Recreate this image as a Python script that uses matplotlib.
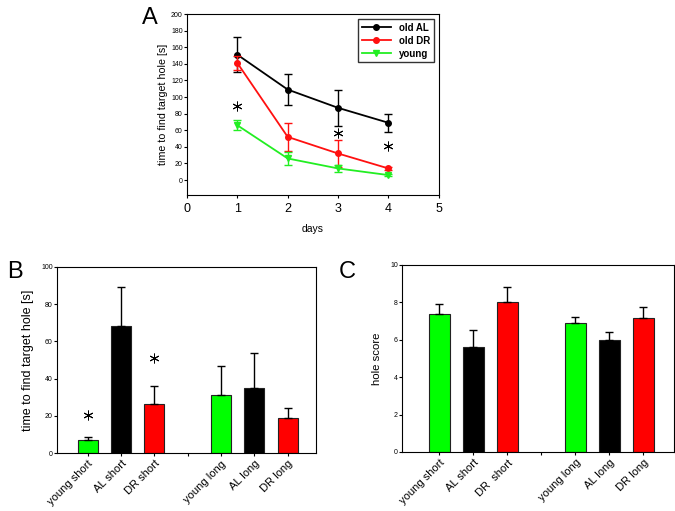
import numpy as np
import matplotlib.pyplot as plt

# panel A: time course
days = [1, 2, 3, 4]
al_mean = [151, 109, 87, 69]
al_err = [21, 19, 22, 11]
dr_mean = [141, 52, 32, 14]
dr_err = [8, 17, 16, 2]
young_mean = [66, 26, 14, 6]
young_err = [6, 8, 4, 1]
star_a_x = [1, 3, 4]
star_a_y = [89, 57, 41]

# panels B and C: bars
bar_labels = ["young short", "AL short", "DR short", "", "young long", "AL long", "DR long"]
bar_pos = [1, 2, 3, 5, 6, 7]
bar_colors = ["#00ff00", "#000000", "#ff0000", "#00ff00", "#000000", "#ff0000"]
time_mean = [7, 68.5, 26.5, 31, 35, 19]
time_err = [1.5, 21, 9.5, 16, 19, 5]
star_b_x = [1, 3]
star_b_y = [20.5, 51]
hole_labels = ["young short", "AL short", "DR  short", "", "young long", "AL long", "DR long"]
hole_mean = [7.4, 5.6, 8.0, 6.9, 6.0, 7.15]
hole_err = [0.5, 0.9, 0.8, 0.3, 0.4, 0.6]

plt.rcParams['font.family'] = ['Liberation Sans', 'DejaVu Sans']

fig = plt.figure(figsize=(6.75, 5.11), dpi=100)

# ---- A ----
ax = fig.add_axes([0.277, 0.6184, 0.373, 0.3542])
series = [
    (al_mean, al_err, "black", "o", "old AL"),
    (dr_mean, dr_err, "#ff1010", "o", "old DR"),
    (young_mean, young_err, "#22ee22", "v", "young"),
]
for mean, err, col, mk, lab in series:
    ax.errorbar(days, mean, yerr=err, fmt="none", ecolor=col, capsize=3, elinewidth=1)
    ax.plot(days, mean, color=col, marker=mk, ms=4, lw=1.3, label=lab)
ax.plot(star_a_x, star_a_y, ls="none", marker=(6, 2, 0), ms=7, mew=0.7, color="black")
ax.set_xlim(0, 5)
ax.set_ylim(-18, 200)
ax.set_yticks(np.arange(0, 201, 20))
ax.set_xticks(range(6))
ax.tick_params(axis="y", labelsize=5, length=2, pad=1)
ax.tick_params(axis="x", labelsize=9, length=2)
ax.set_ylabel("time to find target hole [s]", fontsize=7.7, labelpad=2)
ax.set_xlabel("days", fontsize=7.5, labelpad=7)
leg = ax.legend(loc="upper right", prop={"weight": "bold", "size": 7},
                frameon=True, fancybox=False, edgecolor="black", borderpad=0.4,
                handlelength=3, labelspacing=0.3)
leg.get_frame().set_linewidth(1)
fig.text(0.222, 0.965, "A", fontsize=17, ha="center", va="center")

# ---- B ----
axb = fig.add_axes([0.0844, 0.1135, 0.384, 0.364])
axb.bar(bar_pos, time_mean, width=0.6, color=bar_colors, edgecolor="#222222", lw=0.8,
        yerr=[np.zeros(len(time_err)), time_err], capsize=3,
        error_kw={"elinewidth": 1, "capthick": 1})
axb.plot(star_b_x, star_b_y, ls="none", marker=(6, 2, 0), ms=7, mew=0.7, color="black")
axb.set_xlim(0.08, 7.86)
axb.set_ylim(0, 100)
axb.set_yticks(np.arange(0, 101, 20))
axb.set_xticks(range(1, 8))
axb.set_xticklabels(bar_labels, rotation=45, ha="right", rotation_mode="anchor", fontsize=8)
axb.tick_params(axis="y", labelsize=5, length=2, pad=1)
axb.tick_params(axis="x", length=2, pad=2)
axb.set_ylabel("time to find target hole [s]", fontsize=9, labelpad=5)
fig.text(0.022, 0.467, "B", fontsize=17, ha="center", va="center")

# ---- C ----
axc = fig.add_axes([0.5956, 0.1155, 0.403, 0.366])
axc.bar(bar_pos, hole_mean, width=0.61, color=bar_colors, edgecolor="#222222", lw=0.8,
        yerr=[np.zeros(len(hole_err)), hole_err], capsize=3,
        error_kw={"elinewidth": 1, "capthick": 1})
axc.set_xlim(-0.1, 7.9)
axc.set_ylim(0, 10)
axc.set_yticks(np.arange(0, 11, 2))
axc.set_xticks(range(1, 8))
axc.set_xticklabels(hole_labels, rotation=45, ha="right", rotation_mode="anchor", fontsize=8)
axc.tick_params(axis="y", labelsize=5, length=2, pad=1)
axc.tick_params(axis="x", length=2, pad=2)
axc.set_ylabel("hole score", fontsize=8.2, labelpad=6)
fig.text(0.515, 0.467, "C", fontsize=17, ha="center", va="center")

fig.savefig("out.png", dpi=100)
